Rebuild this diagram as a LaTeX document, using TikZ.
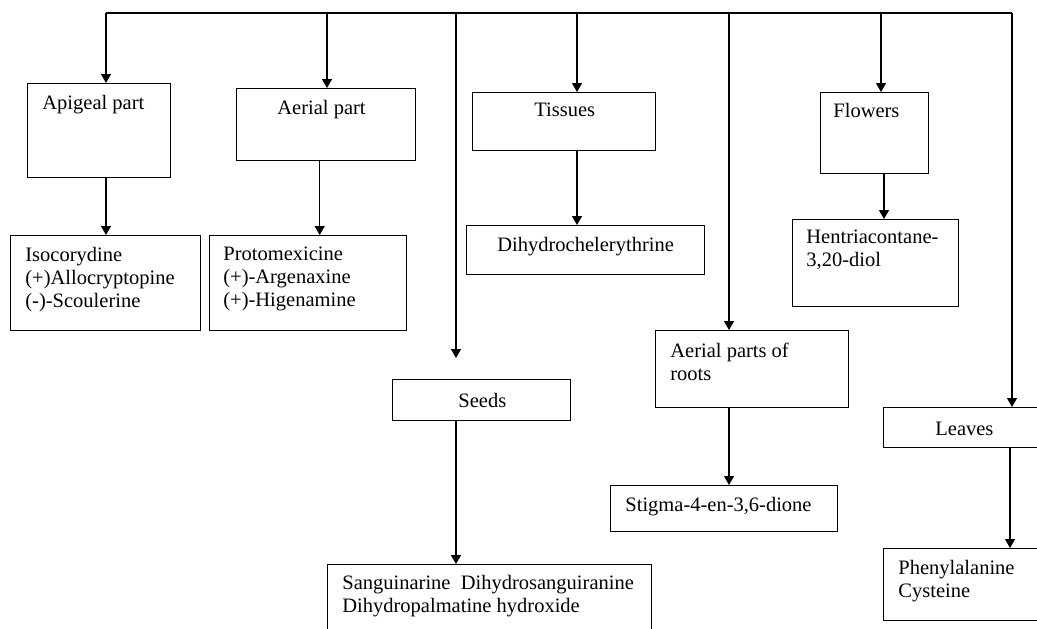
\documentclass[tikz,border=0pt]{standalone}
\usepackage{fontspec}
\setmainfont{Liberation Serif}
\usetikzlibrary{arrows.meta}

\tikzset{
  box/.style 2 args={draw, line width=0.7pt, anchor=north west, inner sep=0pt,
    minimum width=#1*0.5pt, minimum height=#2*0.5pt},
  txt/.style 2 args={anchor=north west, inner sep=0pt, align=left,
    font=\fontsize{10.25}{11.5}\selectfont, xshift=#1*0.5pt, yshift=-#2*0.5pt},
  arr/.style={-{Triangle[width=5pt,length=4.5pt]}, line width=0.7pt},
  bus/.style={line width=0.7pt}
}

\begin{document}
\begin{tikzpicture}[x=0.5pt, y=-0.5pt]
  \path[use as bounding box, clip] (0,0) rectangle (1037,628);

  % plant parts
  \node[box={143}{94}, label={[txt={15}{12}]north west:{Apigeal part}}] (apigeal) at (27,83) {};
  \node[box={179}{72}, label={[txt={41}{12}]north west:{Aerial part}}] (aerial) at (236,88) {};
  \node[box={183}{58}, label={[txt={62}{11}]north west:{Tissues}}] (tissues) at (472,92) {};
  \node[box={108}{81}, label={[txt={13}{11}]north west:{Flowers}}] (flowers) at (820,92) {};
  \node[box={178}{41}, label={[txt={66}{14}]north west:{Seeds}}] (seeds) at (392,379) {};
  \node[box={193}{77}, label={[txt={15}{13}]north west:{Aerial parts of\\roots}}] (roots) at (655,330) {};
  \node[box={170}{40}, label={[txt={52}{15}]north west:{Leaves}}] (leaves) at (883,407) {};

  % compounds
  \node[box={190}{95}, label={[txt={15}{12}]north west:{Isocorydine\\(+)Allocryptopine\\(-)-Scoulerine}}] (isocor) at (10,235) {};
  \node[box={197}{95}, label={[txt={14}{12}]north west:{Protomexicine\\(+)-Argenaxine\\(+)-Higenamine}}] (proto) at (209,235) {};
  \node[box={238}{49}, label={[txt={31}{12}]north west:{Dihydrochelerythrine}}] (dihydro) at (466,225) {};
  \node[box={166}{87}, label={[txt={14}{11}]north west:{Hentriacontane-\\3,20-diol}}] (hentri) at (792,219) {};
  \node[box={227}{46}, label={[txt={15}{12}]north west:{Stigma-4-en-3,6-dione}}] (stigma) at (610,485) {};
  \node[box={324}{80}, label={[txt={15}{11}]north west:{Sanguinarine\ \ Dihydrosanguiranine\\Dihydropalmatine hydroxide}}] (sangui) at (327,564) {};
  \node[box={170}{72}, label={[txt={15}{12}]north west:{Phenylalanine\\Cysteine}}] (phenyl) at (883,548) {};

  % top line
  \foreach \n/\x in {1/106,2/327,3/456,4/577,5/729,6/881,7/1012}
    \coordinate (b\n) at (\x,13);
  \draw[bus] (b1) -- (b7);

  \draw[arr] (b1) -- (b1 |- apigeal.north);
  \draw[arr] (b2) -- (b2 |- aerial.north);
  \draw[arr] (b3) -- ++(0,345);
  \draw[arr] (b4) -- (b4 |- tissues.north);
  \draw[arr] (b5) -- (b5 |- roots.north);
  \draw[arr] (b6) -- (b6 |- flowers.north);
  \draw[arr] (b7) -- (b7 |- leaves.north);

  % parts to compounds
  \draw[arr] (b1 |- apigeal.south) -- (b1 |- isocor.north);
  \draw[arr] ([xshift=-3.25pt]aerial.south) -- ([xshift=-3.25pt]aerial.south |- proto.north);
  \draw[arr] (b4 |- tissues.south) -- (b4 |- dihydro.north);
  \draw[arr] ([xshift=1.5pt]b6 |- flowers.south) -- ([xshift=1.5pt]b6 |- hentri.north);
  \draw[arr] (b3 |- seeds.south) -- (b3 |- sangui.north);
  \draw[arr] (b5 |- roots.south) -- (b5 |- stigma.north);
  \draw[arr] ([xshift=-1pt]b7 |- leaves.south) -- ([xshift=-1pt]b7 |- phenyl.north);
\end{tikzpicture}
\end{document}
